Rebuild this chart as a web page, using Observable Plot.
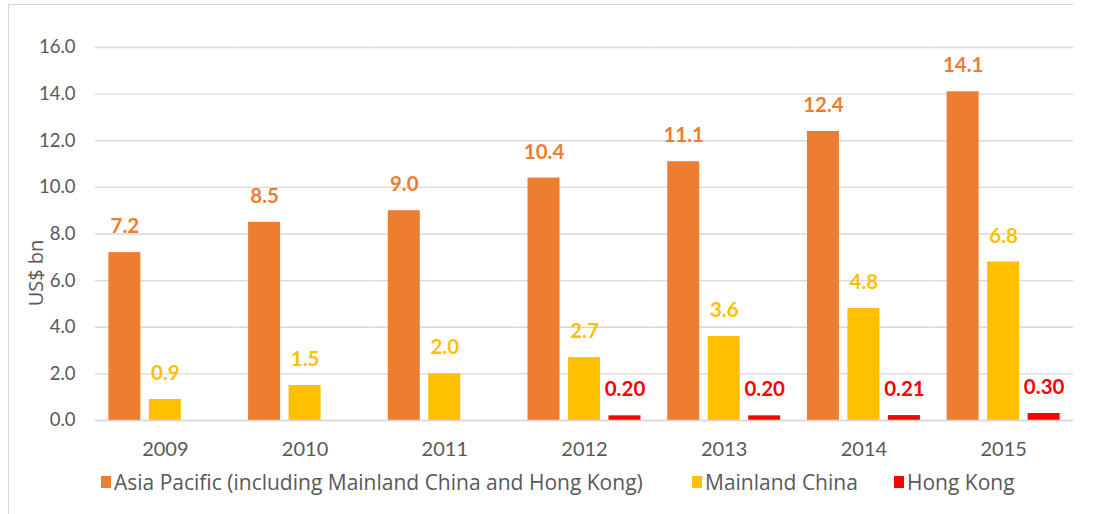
<!DOCTYPE html>
<html>
<head>
<meta charset="utf-8">
<script src="https://cdn.jsdelivr.net/npm/d3@7"></script>
<script src="https://cdn.jsdelivr.net/npm/@observablehq/plot@0.6"></script>
<style>
  html, body { margin: 0; padding: 0; background: #fff; }
  body { width: 1094px; height: 514px; position: relative; overflow: hidden; font-family: Lato, "Open Sans", sans-serif; }
  #frame { position: absolute; left: 8px; top: 4px; width: 1065px; height: 520px; border-left: 1.5px solid #D9D9D9; border-top: 1.5px solid #D9D9D9; }
  #chart { position: absolute; left: 0; top: 0; }
  #ylabel { position: absolute; left: 35px; top: 273px; transform: translate(-50%, -50%) rotate(-90deg); font-family: "Open Sans", sans-serif; font-size: 20px; color: #595959; white-space: nowrap; }
  #legend { position: absolute; top: 468px; left: 0; width: 1094px; height: 28px; font-family: "Open Sans", sans-serif; font-size: 21px; color: #595959; }
  .item { position: absolute; top: 0; display: flex; align-items: center; white-space: nowrap; }
  .sw { width: 10px; height: 12px; margin-right: 3px; }
</style>
</head>
<body>
<div id="frame"></div>
<div id="chart"></div>
<div id="ylabel">US$ bn</div>
<div id="legend"></div>
<script>
const years = ["2009", "2010", "2011", "2012", "2013", "2014", "2015"];
const seriesNames = ["Asia Pacific (including Mainland China and Hong Kong)", "Mainland China", "Hong Kong"];
const seriesColors = ["#ED7D31", "#FFC000", "#FF0000"];
const asiaPacific = [7.2, 8.5, 9.0, 10.4, 11.1, 12.4, 14.1];
const mainlandChina = [0.9, 1.5, 2.0, 2.7, 3.6, 4.8, 6.8];
const hongKong = [null, null, null, 0.20, 0.20, 0.21, 0.30];
const yTicks = [0, 2, 4, 6, 8, 10, 12, 14, 16];

const seriesValues = [asiaPacific, mainlandChina, hongKong];
const seriesDecimals = [1, 1, 2];
const rows = [];
years.forEach((year, i) => {
  seriesNames.forEach((s, j) => {
    const v = seriesValues[j][i];
    if (v != null) rows.push({ year, series: s, value: v, label: v.toFixed(seriesDecimals[j]) });
  });
});

const chart = Plot.plot({
  width: 1094,
  height: 460,
  marginLeft: 95,
  marginRight: 21,
  marginTop: 47,
  marginBottom: 40,
  style: { fontFamily: "Lato, 'Open Sans', sans-serif", fontSize: "20px", color: "#595959", background: "transparent" },
  fx: { domain: years, padding: 0, round: false, label: null, axis: "bottom", tickSize: 0, tickPadding: 21 },
  x: { domain: seriesNames, axis: null, round: false, paddingInner: 0.21, paddingOuter: 0.33 },
  y: { domain: [0, 16], axis: null },
  color: { domain: seriesNames, range: seriesColors },
  marks: [
    Plot.gridY(yTicks, { stroke: "#D9D9D9", strokeOpacity: 1, strokeWidth: 1.3 }),
    Plot.axisY(yTicks, { tickSize: 0, tickPadding: 20, tickFormat: d => d.toFixed(1), label: null, fill: "#595959", fontSize: 18.5 }),
    Plot.barY(rows, { fx: "year", x: "series", y: "value", fill: "series" }),
    Plot.ruleY([0], { stroke: "#D9D9D9", strokeWidth: 1.5 }),
    Plot.text(rows, { fx: "year", x: "series", y: "value", text: "label", fill: "series", dy: -26, fontWeight: "bold", fontSize: 20.5 })
  ]
});
document.getElementById("chart").appendChild(chart);

const legendX = [101, 692, 894];
const legend = document.getElementById("legend");
seriesNames.forEach((s, j) => {
  const item = document.createElement("div");
  item.className = "item";
  item.style.left = legendX[j] + "px";
  const sw = document.createElement("span");
  sw.className = "sw";
  sw.style.background = seriesColors[j];
  const t = document.createElement("span");
  t.textContent = s;
  item.appendChild(sw);
  item.appendChild(t);
  legend.appendChild(item);
});
</script>
</body>
</html>
